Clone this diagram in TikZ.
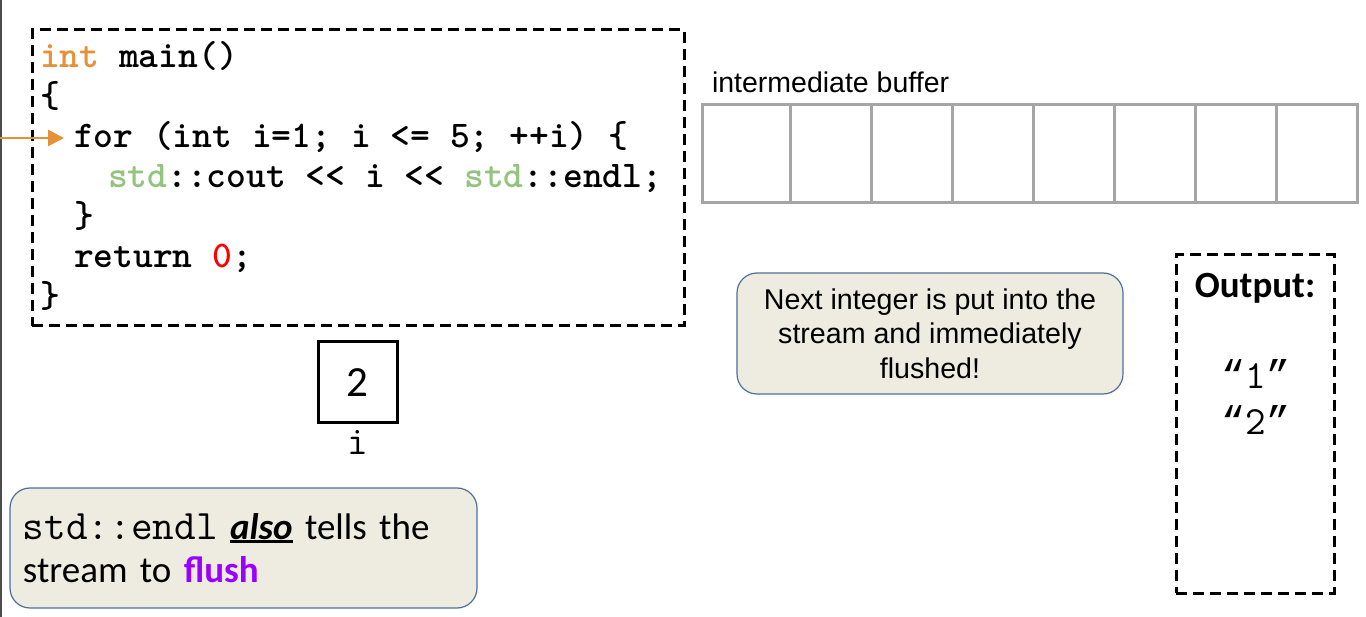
\documentclass[tikz,border=0pt]{standalone}
\usepackage{fontspec}
\setmainfont{Liberation Sans}
\newfontfamily\calfont{Carlito}
\newfontfamily\quotefont{Liberation Mono}
\usepackage{xcolor}
\usetikzlibrary{arrows.meta}
\definecolor{kworange}{HTML}{E69138}
\definecolor{nsgreen}{HTML}{93C47D}
\definecolor{numred}{HTML}{FF0000}
\definecolor{flushpurple}{HTML}{9900FF}
\definecolor{notefill}{HTML}{EEECE1}
\definecolor{noteborder}{HTML}{4E6F9A}
\definecolor{bufgrey}{HTML}{A5A5A5}
\newcommand{\thickul}[1]{\setbox0\hbox{#1}\rlap{\rule[-3.5pt]{\wd0}{2.6pt}}\box0}
\newcommand{\outq}[1]{{\quotefont “}#1{\quotefont ”}}

\begin{document}
\begin{tikzpicture}[x=1pt, y=-1pt,
  every node/.style={inner sep=0pt, outer sep=0pt},
  codeline/.style={anchor=base west, font=\ttfamily\bfseries\fontsize{37.7}{40}\selectfont},
  dashbox/.style={draw, line width=3pt, dash pattern=on 11pt off 6pt},
  note/.style={draw=noteborder, fill=notefill, line width=1.2pt, rounded corners=20pt},
  bufline/.style={draw=bufgrey, line width=3pt}]
\useasboundingbox (0,0) rectangle (1366,617);
% рамки
\draw [black!70, line width=2pt] (1,0) -- (1,617);
\node (codebox) [dashbox, anchor=north west, minimum width=652, minimum height=296] at (32,30) {};
\node (outbox) [dashbox, anchor=north west, minimum width=158, minimum height=338] at (1176,255) {};
% код
\node (l1) [codeline] at (40,68) {{\color{kworange}int} main()};
\node (l2) [codeline] at (40,108) {\{};
\node (l3) [codeline] at (74,148) {for (int i=1; i <= 5; ++i) \{};
\node (l4) [codeline] at (108,188) {{\color{nsgreen}std}::cout << i << {\color{nsgreen}std}::endl;};
\node (l5) [codeline] at (74,228) {\}};
\node (l6) [codeline] at (74,268) {return {\color{numred}0};};
\node (l7) [codeline] at (40,308) {\}};
% указатель
\coordinate (ptr) at (0,138);
\coordinate (ptrtip) at (64,138);
\draw [-{Triangle[length=16pt, width=16pt]}, kworange, line width=2.4pt] (ptr) -- (ptrtip);
% буфер
\node (buflabel) [anchor=base west, font=\fontsize{28.5}{34}\selectfont] at (712,93) {intermediate buffer};
\draw [bufline] (702,105) rectangle (1357,203);
\draw [bufline] (790,105) -- (790,203);
\draw [bufline] (871,105) -- (871,203);
\draw [bufline] (952,105) -- (952,203);
\draw [bufline] (1033,105) -- (1033,203);
\draw [bufline] (1114,105) -- (1114,203);
\draw [bufline] (1195,105) -- (1195,203);
\draw [bufline] (1276,105) -- (1276,203);
% переменная i
\node (ibox) [draw, line width=3pt, minimum width=79, minimum height=81, font=\calfont\fontsize{43}{48}\selectfont] at (357.5,382.5) {2};
\node (iname) [anchor=base, font=\ttfamily\fontsize{40}{44}\selectfont] at (357.5,455) {i};
% подписи
\node (flushnote) [note, minimum height=120, text width=441, inner xsep=13pt, align=left, anchor=north west,
  font=\calfont\fontsize{37}{43}\selectfont] at (10,488)
  {{\ttfamily\fontsize{42}{43}\selectfont std::endl} {\bfseries\itshape\thickul{also}} tells the\\
   stream to {\bfseries\color{flushpurple}flush}};
\node (nextnote) [note, minimum width=386, minimum height=121, align=center,
  font=\fontsize{28.6}{34.5}\selectfont] at (930,333.5)
  {Next integer is put into the\\ stream and immediately\\ flushed!};
% вывод
\node (outlabel) [anchor=base, font=\calfont\bfseries\fontsize{37}{44}\selectfont] at (1255,298) {Output:};
\node (out1) [anchor=base, font=\ttfamily\fontsize{40}{44}\selectfont] at (1256,389) {\outq{1}};
\node (out2) [anchor=base, font=\ttfamily\fontsize{40}{44}\selectfont] at (1256,435) {\outq{2}};
\end{tikzpicture}
\end{document}
